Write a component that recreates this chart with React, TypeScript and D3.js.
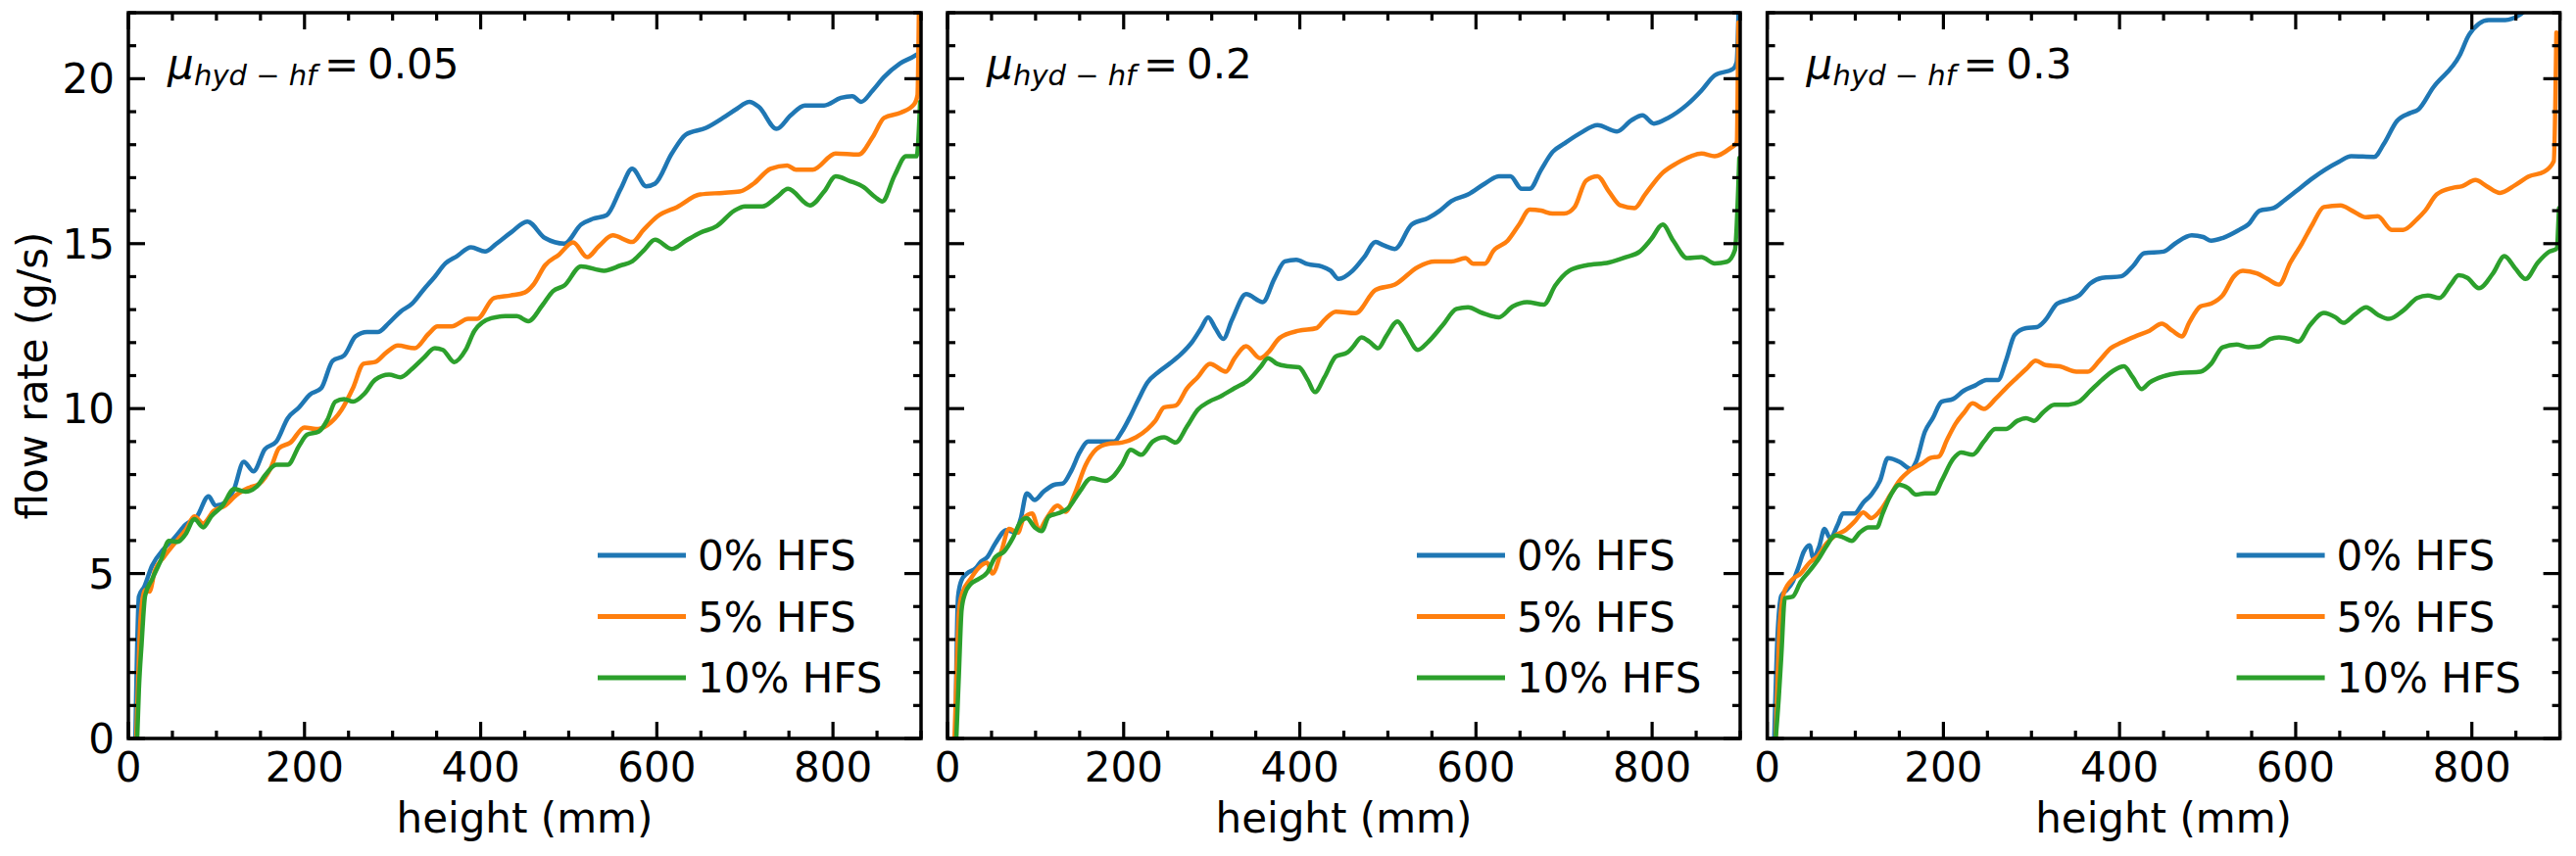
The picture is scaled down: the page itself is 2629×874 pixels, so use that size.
import React from 'react';
import * as d3 from 'd3';

type Pt = [number, number];

// panel titles (friction coefficient) and legend entries
const muValues = ['0.05', '0.2', '0.3'];
const seriesNames = ['0% HFS', '5% HFS', '10% HFS'];
const seriesColors = ['#1f77b4', '#ff7f0e', '#2ca02c'];
const xTicks = [0, 200, 400, 600, 800];
const yTicks = [0, 5, 10, 15, 20];

// mu = 0.05
const mu005Hfs0: Pt[] = [[8,0],[9,1.5],[12,4.3],[18,4.6],[27,5.24],[40,5.74],[52,6.07],[65,6.48],[78,6.73],[91,7.34],[99,7.06],[110,7.15],[120,7.56],[131,8.39],[142,8.1],[155,8.77],[168,9.0],[181,9.71],[194,10.04],[206,10.42],[219,10.62],[232,11.45],[245,11.61],[258,12.19],[271,12.32],[283,12.32],[296,12.6],[309,12.94],[322,13.18],[335,13.6],[348,14.0],[360,14.4],[373,14.62],[389,14.89],[405,14.76],[418,15.0],[434,15.33],[453,15.67],[473,15.17],[495,15.0],[514,15.58],[527,15.75],[543,15.86],[559,16.66],[572,17.27],[588,16.74],[598,16.82],[617,17.73],[633,18.31],[656,18.51],[675,18.81],[691,19.09],[705,19.3],[716,19.14],[736,18.48],[752,18.89],[768,19.19],[790,19.19],[809,19.42],[822,19.47],[832,19.3],[845,19.64],[858,20.05],[876,20.46],[893,20.7],[898,20.8],[900,21.2]];
const mu005Hfs5: Pt[] = [[9,0],[12,2.5],[14,3.67],[19,4.5],[24,4.45],[30,5.08],[40,5.49],[52,5.9],[65,6.32],[75,6.73],[85,6.52],[97,6.9],[110,7.06],[123,7.39],[136,7.59],[149,7.73],[162,8.22],[171,8.8],[184,8.97],[200,9.43],[213,9.38],[226,9.5],[242,9.96],[255,10.62],[267,11.36],[280,11.41],[293,11.7],[306,11.91],[325,11.83],[341,12.27],[351,12.49],[367,12.49],[386,12.72],[396,12.72],[415,13.35],[434,13.43],[450,13.52],[460,13.76],[473,14.34],[489,14.67],[505,15.04],[521,14.59],[534,14.92],[550,15.25],[572,15.05],[585,15.42],[601,15.83],[623,16.11],[649,16.49],[675,16.54],[694,16.58],[710,16.82],[729,17.27],[748,17.37],[758,17.24],[777,17.24],[803,17.73],[829,17.7],[845,18.23],[858,18.81],[877,18.97],[892,19.22],[896,19.5],[898,23]];
const mu005Hfs10: Pt[] = [[10,0],[12,1.5],[15,2.85],[19,4.33],[27,4.83],[37,5.41],[46,5.99],[56,5.96],[65,6.19],[75,6.65],[85,6.4],[94,6.73],[107,7.06],[120,7.56],[133,7.48],[146,7.64],[155,7.97],[168,8.3],[181,8.3],[194,8.88],[203,9.21],[216,9.3],[226,9.66],[235,10.21],[245,10.29],[255,10.21],[268,10.45],[280,10.87],[296,11.03],[309,10.95],[322,11.2],[335,11.53],[348,11.83],[357,11.78],[370,11.41],[383,11.78],[393,12.36],[412,12.74],[428,12.8],[441,12.8],[454,12.65],[470,13.13],[482,13.56],[495,13.73],[514,14.31],[540,14.18],[559,14.34],[572,14.46],[585,14.79],[598,15.12],[617,14.84],[633,15.09],[649,15.33],[668,15.53],[688,16.0],[700,16.13],[720,16.13],[736,16.41],[749,16.66],[774,16.16],[790,16.58],[803,17.04],[819,16.9],[835,16.71],[848,16.41],[856,16.28],[870,17.07],[883,17.65],[895,17.65],[899,19.3]];

// mu = 0.2
const mu02Hfs0: Pt[] = [[9,0],[10,2],[12,4.3],[16,4.8],[22,5.0],[32,5.16],[38,5.36],[45,5.49],[54,5.9],[67,6.32],[77,6.24],[83,6.65],[90,7.43],[99,7.23],[109,7.48],[121,7.69],[131,7.73],[141,8.14],[150,8.67],[160,9.0],[176,9.0],[189,9.0],[198,9.3],[208,9.79],[217,10.29],[227,10.79],[240,11.12],[252,11.36],[265,11.65],[278,12.03],[288,12.44],[296,12.77],[304,12.44],[313,12.11],[323,12.69],[339,13.47],[358,13.23],[371,13.93],[383,14.46],[396,14.51],[409,14.38],[425,14.31],[435,14.18],[444,13.93],[460,14.18],[473,14.59],[486,15.05],[495,14.95],[508,14.84],[527,15.58],[546,15.78],[559,16.0],[572,16.29],[591,16.49],[610,16.82],[626,17.04],[639,17.04],[652,16.66],[661,16.66],[674,17.24],[687,17.78],[700,18.03],[719,18.36],[738,18.59],[760,18.4],[776,18.73],[789,18.89],[802,18.64],[818,18.81],[840,19.22],[856,19.64],[871,20.1],[892,20.3],[896,20.5],[899,23]];
const mu02Hfs5: Pt[] = [[8,0],[11,2.5],[13,3.84],[17,4.42],[26,4.83],[35,5.16],[45,5.33],[51,5.0],[61,5.66],[70,6.35],[80,6.24],[86,6.65],[96,6.82],[104,6.32],[112,6.65],[125,7.06],[134,6.87],[144,7.39],[157,8.3],[169,8.77],[182,8.93],[198,8.97],[214,9.13],[227,9.38],[236,9.63],[246,10.04],[259,10.09],[272,10.62],[284,10.95],[298,11.36],[316,11.12],[326,11.53],[339,11.89],[355,11.53],[364,11.7],[377,12.14],[399,12.36],[419,12.44],[428,12.69],[441,12.94],[463,12.89],[486,13.6],[508,13.76],[534,14.29],[553,14.46],[572,14.46],[588,14.56],[597,14.39],[610,14.39],[620,14.79],[636,15.09],[649,15.58],[661,16.03],[674,16.0],[687,15.91],[700,15.91],[712,16.11],[725,16.91],[738,17.04],[751,16.58],[764,16.16],[780,16.08],[792,16.49],[812,17.15],[828,17.44],[844,17.65],[856,17.73],[871,17.65],[889,17.9],[896,18.06],[898,21.7]];
const mu02Hfs10: Pt[] = [[10,0],[13,2],[16,3.9],[20,4.4],[26,4.67],[35,4.83],[45,5.03],[54,5.49],[64,5.66],[74,6.07],[83,6.57],[90,6.68],[99,6.4],[107,6.29],[115,6.73],[125,6.82],[137,6.98],[150,7.48],[163,7.89],[179,7.81],[189,7.97],[198,8.3],[208,8.75],[220,8.6],[233,9.0],[246,9.13],[259,8.97],[272,9.46],[284,9.96],[297,10.21],[310,10.37],[326,10.62],[342,10.87],[355,11.25],[364,11.53],[374,11.36],[387,11.28],[399,11.25],[409,10.87],[417,10.5],[428,10.95],[441,11.58],[454,11.7],[460,11.86],[470,12.16],[479,12.03],[489,11.83],[498,12.19],[511,12.64],[521,12.27],[534,11.78],[546,12.03],[562,12.52],[578,13.02],[591,13.07],[607,12.9],[626,12.77],[642,13.1],[658,13.23],[677,13.15],[690,13.73],[706,14.18],[725,14.34],[751,14.43],[770,14.59],[786,14.76],[799,15.14],[812,15.58],[824,15.09],[840,14.56],[856,14.59],[871,14.4],[885,14.45],[894,14.8],[899,17.6]];

// mu = 0.3
const mu03Hfs0: Pt[] = [[8,0],[11.5,3.0],[16,4.33],[22,4.5],[29,4.75],[35,5.16],[41.5,5.66],[48,5.86],[52,5.49],[59,5.82],[65,6.35],[71.5,6.07],[80,6.48],[86,6.82],[99,6.82],[109,7.15],[118,7.39],[128,7.81],[137,8.5],[150,8.39],[163,8.17],[169,8.39],[179,9.3],[188,9.71],[198,10.21],[211,10.29],[223,10.54],[236,10.7],[249,10.87],[262,10.87],[271,11.45],[281,12.24],[294,12.44],[306,12.47],[316,12.69],[329,13.18],[342,13.3],[354,13.43],[367,13.8],[380,13.96],[402,14.01],[415,14.31],[428,14.71],[450,14.76],[463,15.0],[482,15.25],[495,15.2],[504,15.09],[517,15.17],[536,15.42],[546,15.58],[559,16.0],[575,16.08],[588,16.33],[600,16.58],[619,16.98],[649,17.48],[663,17.65],[689,17.63],[700,18.02],[715,18.72],[730,18.96],[739,19.06],[756,19.73],[786,20.7],[797,21.34],[819,21.78],[838,21.78],[854,21.93],[870,22.3],[900,23]];
const mu03Hfs5: Pt[] = [[9.6,0],[12,2.0],[14,3.34],[19,4.42],[29,4.83],[38,5.0],[48,5.33],[57.5,5.53],[67,5.9],[77,6.15],[89,6.32],[99,6.57],[109,6.85],[118,6.68],[128,6.9],[140,7.39],[150,7.81],[163,8.14],[176,8.34],[185,8.5],[195,8.55],[204,9.05],[214,9.55],[223.5,9.88],[233,10.16],[246,9.99],[259,10.29],[271,10.62],[284,10.95],[294,11.2],[305,11.45],[316,11.32],[332,11.28],[351,11.12],[364,11.12],[377,11.45],[390,11.83],[402,12.0],[418,12.19],[434,12.36],[448,12.57],[460,12.36],[471,12.19],[479,12.6],[492,13.1],[504,13.18],[517,13.43],[530,14.01],[540,14.18],[556,14.1],[568,13.93],[581,13.76],[594,14.43],[607,15.0],[619,15.58],[632,16.11],[651,16.16],[664,16.0],[680,15.8],[693,15.83],[709,15.42],[722,15.42],[738,15.75],[747,16.0],[760,16.49],[778,16.69],[789,16.74],[804,16.93],[817,16.74],[832,16.54],[849,16.77],[865,17.04],[882,17.18],[893,17.5],[896,21.4]];
const mu03Hfs10: Pt[] = [[9.6,0],[13,1.2],[16,2.51],[20,4.25],[29,4.3],[38,4.75],[48,5.08],[57.5,5.41],[67,5.82],[77,6.15],[86,6.1],[96,5.99],[105,6.24],[115,6.4],[124.5,6.4],[131,6.82],[140.5,7.39],[150,7.69],[160,7.59],[169,7.39],[179,7.43],[190,7.43],[198,7.81],[211,8.47],[220,8.67],[233,8.6],[246,9.0],[259,9.38],[271,9.38],[284,9.63],[294,9.71],[303,9.63],[313,9.88],[326,10.12],[342,10.12],[354,10.21],[367,10.54],[380,10.87],[393,11.15],[405,11.28],[415,10.95],[425,10.59],[434,10.79],[450,10.98],[469,11.08],[492,11.12],[504,11.36],[517,11.86],[533,11.94],[546,11.86],[559,11.89],[571,12.11],[581,12.16],[594,12.11],[603,12.03],[616,12.52],[632,12.9],[645,12.77],[654,12.6],[667,12.85],[680,13.07],[693,12.85],[706,12.72],[722,12.97],[738,13.35],[750,13.43],[763,13.35],[776,13.76],[785,14.04],[795,13.96],[808,13.65],[824,14.1],[837,14.62],[849,14.26],[861,13.93],[875,14.43],[888,14.76],[896,14.84],[899,16.08]];

const panels: Pt[][][] = [
  [mu005Hfs0, mu005Hfs5, mu005Hfs10],
  [mu02Hfs0, mu02Hfs5, mu02Hfs10],
  [mu03Hfs0, mu03Hfs5, mu03Hfs10],
];

const W = 2629;
const H = 874;
const panelLefts = [131, 967, 1803.6];
const panelW = 809;
const top = 13;
const bottom = 754;
const font = 'DejaVu Sans, sans-serif';
const fs = 42;

const Panel: React.FC<{ idx: number }> = ({ idx }) => {
  const left = panelLefts[idx];
  const x = d3.scaleLinear().domain([0, 900]).range([left, left + panelW]);
  const y = d3.scaleLinear().domain([0, 22]).range([bottom, top]);
  const line = d3.line<Pt>()
    .x(d => x(d[0]))
    .y(d => y(d[1]))
    .curve(d3.curveMonotoneX);
  const xMinor = d3.range(0, 901, 50).filter(v => v % 200 !== 0);
  const yMinor = d3.range(0, 23, 1).filter(v => v % 5 !== 0);
  const clipId = `clip-${idx}`;
  const major = 17;
  const minor = 8;
  const tw = 3.2;

  return (
    <g>
      <defs>
        <clipPath id={clipId}>
          <rect x={left} y={top} width={panelW} height={bottom - top} />
        </clipPath>
      </defs>
      <g clipPath={`url(#${clipId})`}>
        {panels[idx].map((s, i) => (
          <path key={i} d={line(s) || ''} fill="none" stroke={seriesColors[i]}
            strokeWidth={4.5} strokeLinejoin="round" strokeLinecap="round" />
        ))}
      </g>

      {/* ticks, all four sides, pointing in */}
      <g stroke="#000" strokeWidth={tw}>
        {xTicks.map(v => (
          <g key={`xm${v}`}>
            <line x1={x(v)} x2={x(v)} y1={bottom} y2={bottom - major} />
            <line x1={x(v)} x2={x(v)} y1={top} y2={top + major} />
          </g>
        ))}
        {xMinor.map(v => (
          <g key={`xn${v}`}>
            <line x1={x(v)} x2={x(v)} y1={bottom} y2={bottom - minor} />
            <line x1={x(v)} x2={x(v)} y1={top} y2={top + minor} />
          </g>
        ))}
        {yTicks.map(v => (
          <g key={`ym${v}`}>
            <line x1={left} x2={left + major} y1={y(v)} y2={y(v)} />
            <line x1={left + panelW} x2={left + panelW - major} y1={y(v)} y2={y(v)} />
          </g>
        ))}
        {yMinor.map(v => (
          <g key={`yn${v}`}>
            <line x1={left} x2={left + minor} y1={y(v)} y2={y(v)} />
            <line x1={left + panelW} x2={left + panelW - minor} y1={y(v)} y2={y(v)} />
          </g>
        ))}
      </g>
      <rect x={left} y={top} width={panelW} height={bottom - top} fill="none" stroke="#000" strokeWidth={3.5} />

      {/* tick labels */}
      {xTicks.map(v => (
        <text key={`xl${v}`} x={x(v)} y={798} textAnchor="middle" fontSize={fs} fontFamily={font}>{v}</text>
      ))}
      {idx === 0 && yTicks.map(v => (
        <text key={`yl${v}`} x={left - 14} y={y(v) + 15} textAnchor="end" fontSize={fs} fontFamily={font}>{v}</text>
      ))}
      <text x={left + panelW / 2} y={850} textAnchor="middle" fontSize={fs} fontFamily={font}>height (mm)</text>

      {/* annotation */}
      <g fontFamily={font}>
        <text x={left + 40} y={80} fontSize={fs} fontStyle="italic">μ</text>
        <text x={left + 67} y={87} fontSize={29} fontStyle="italic">hyd − hf</text>
        <text x={left + 200} y={80} fontSize={fs}>=</text>
        <text x={left + 244} y={80} fontSize={fs}>{muValues[idx]}</text>
      </g>

      {/* legend */}
      {seriesNames.map((name, i) => {
        const cy = 567 + i * 62.5;
        return (
          <g key={name}>
            <line x1={left + 479} x2={left + 569} y1={cy} y2={cy} stroke={seriesColors[i]} strokeWidth={5} />
            <text x={left + 581} y={cy + 15} fontSize={fs} fontFamily={font}>{name}</text>
          </g>
        );
      })}
    </g>
  );
};

const App: React.FC = () => (
  <svg width={W} height={H} style={{ position: 'absolute', left: 0, top: 0, background: '#fff' }}>
    <rect width={W} height={H} fill="#fff" />
    {[0, 1, 2].map(i => <Panel key={i} idx={i} />)}
    <text transform={`translate(48,${(top + bottom) / 2}) rotate(-90)`} textAnchor="middle"
      fontSize={fs} fontFamily={font}>flow rate (g/s)</text>
  </svg>
);

export default App;
